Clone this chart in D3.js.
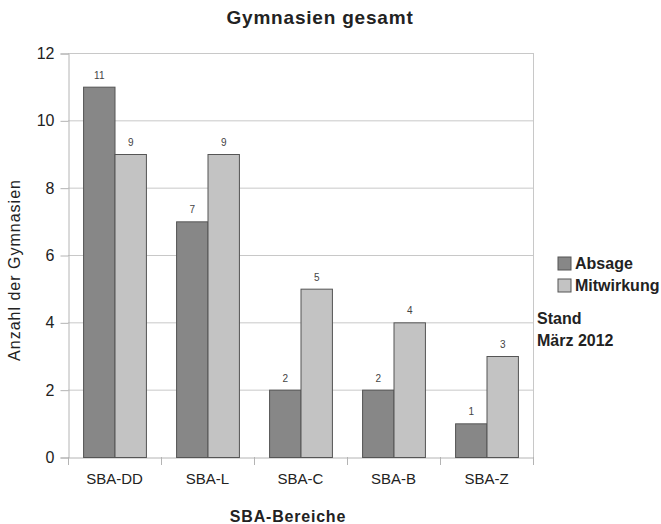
<!DOCTYPE html>
<html>
<head>
<meta charset="utf-8">
<script src="https://cdn.jsdelivr.net/npm/d3@7"></script>
<style>
  body { margin: 0; background: #fff; }
  svg { display: block; font-family: "Liberation Sans", Arial, sans-serif; }
</style>
</head>
<body>
<svg id="chart" width="661" height="524"></svg>
<script>
// Gymnasien je SBA-Bereich
const categories = ["SBA-DD", "SBA-L", "SBA-C", "SBA-B", "SBA-Z"];
const absage = [11, 7, 2, 2, 1];
const mitwirkung = [9, 9, 5, 4, 3];
const seriesNames = ["Absage", "Mitwirkung"];
const seriesColors = ["#878787", "#c3c3c3"];
const yTicks = [0, 2, 4, 6, 8, 10, 12];

const svg = d3.select("#chart");
const plot = { left: 68, right: 533, top: 53, bottom: 457 };

const x = d3.scaleBand().domain(categories).range([plot.left, plot.right]).paddingInner(0).paddingOuter(0);
const x1 = d3.scaleBand().domain(seriesNames).range([0, x.bandwidth()]).paddingOuter(0.48).paddingInner(0);
const y = d3.scaleLinear().domain([0, 12]).range([plot.bottom, plot.top]);

// gridlines
svg.append("g").selectAll("line").data(yTicks.filter(d => d > 0)).join("line")
  .attr("x1", plot.left).attr("x2", plot.right)
  .attr("y1", d => y(d) + 0.5).attr("y2", d => y(d) + 0.5)
  .attr("stroke", "#c8c8c8").attr("stroke-width", 1);

// right frame
svg.append("line").attr("x1", plot.right + 0.5).attr("x2", plot.right + 0.5)
  .attr("y1", plot.top).attr("y2", plot.bottom)
  .attr("stroke", "#c8c8c8");

// y axis
const yAxis = svg.append("g").attr("transform", `translate(${plot.left + 0.5},0.5)`)
  .call(d3.axisLeft(y).tickValues(yTicks).tickSize(8).tickPadding(6).tickFormat(d3.format("d")));
yAxis.select(".domain").attr("stroke", "#b4b4b4");
yAxis.selectAll(".tick line").attr("stroke", "#b4b4b4");
yAxis.selectAll(".tick text").attr("font-size", 16).attr("fill", "#222")
  .attr("font-family", "Liberation Sans, Arial, sans-serif");

// x axis
const xAxis = svg.append("g").attr("transform", `translate(0,${plot.bottom + 0.5})`)
  .call(d3.axisBottom(x).tickSize(0).tickPadding(16));
xAxis.select(".domain").attr("stroke", "#b4b4b4");
xAxis.selectAll(".tick text").attr("font-size", 15).attr("fill", "#222")
  .attr("font-family", "Liberation Sans, Arial, sans-serif");
// category boundary ticks
const bounds = categories.map(c => x(c)).concat([plot.right]);
svg.append("g").selectAll("line").data(bounds).join("line")
  .attr("x1", d => d + 0.5).attr("x2", d => d + 0.5)
  .attr("y1", plot.bottom).attr("y2", plot.bottom + 8)
  .attr("stroke", "#b4b4b4");

// bars
const rows = categories.map((c, i) => ({ cat: c, values: [absage[i], mitwirkung[i]] }));
const groups = svg.append("g").selectAll("g").data(rows).join("g")
  .attr("transform", d => `translate(${x(d.cat)},0)`);
groups.selectAll("rect").data(d => d.values.map((v, j) => ({ key: seriesNames[j], v, j }))).join("rect")
  .attr("x", d => x1(d.key) + 0.5)
  .attr("y", d => y(d.v) + 0.5)
  .attr("width", x1.bandwidth())
  .attr("height", d => y(0) - y(d.v))
  .attr("fill", d => seriesColors[d.j])
  .attr("stroke", "#555")
  .attr("stroke-width", 1);
groups.selectAll("text.val").data(d => d.values.map((v, j) => ({ key: seriesNames[j], v }))).join("text")
  .attr("class", "val")
  .attr("x", d => x1(d.key) + x1.bandwidth() / 2 + 0.5)
  .attr("y", d => y(d.v) - 8)
  .attr("text-anchor", "middle")
  .attr("font-size", 10).attr("fill", "#444")
  .text(d => d.v);

// title
svg.append("text").attr("x", 320).attr("y", 24).attr("text-anchor", "middle")
  .attr("font-size", 19).attr("font-weight", "bold").attr("fill", "#222").attr("letter-spacing", 0.8)
  .text("Gymnasien gesamt");

// axis titles
svg.append("text").attr("transform", "translate(20,270) rotate(-90)").attr("text-anchor", "middle")
  .attr("font-size", 16).attr("fill", "#222").attr("letter-spacing", 1)
  .text("Anzahl der Gymnasien");
svg.append("text").attr("x", 288).attr("y", 522).attr("text-anchor", "middle")
  .attr("font-size", 16).attr("font-weight", "bold").attr("fill", "#222").attr("letter-spacing", 0.8)
  .text("SBA-Bereiche");

// legend
const legend = svg.append("g").selectAll("g").data(seriesNames).join("g")
  .attr("transform", (d, i) => `translate(558,${257 + i * 22})`);
legend.append("rect").attr("width", 13).attr("height", 13)
  .attr("fill", (d, i) => seriesColors[i]).attr("stroke", "#555");
legend.append("text").attr("x", 17).attr("y", 12)
  .attr("font-size", 16).attr("font-weight", "bold").attr("fill", "#222")
  .text(d => d);

// note
const note = svg.append("text").attr("x", 537).attr("font-size", 16).attr("font-weight", "bold").attr("fill", "#222");
note.append("tspan").attr("x", 537).attr("y", 324).text("Stand");
note.append("tspan").attr("x", 537).attr("y", 346).text("März 2012");
</script>
</body>
</html>
